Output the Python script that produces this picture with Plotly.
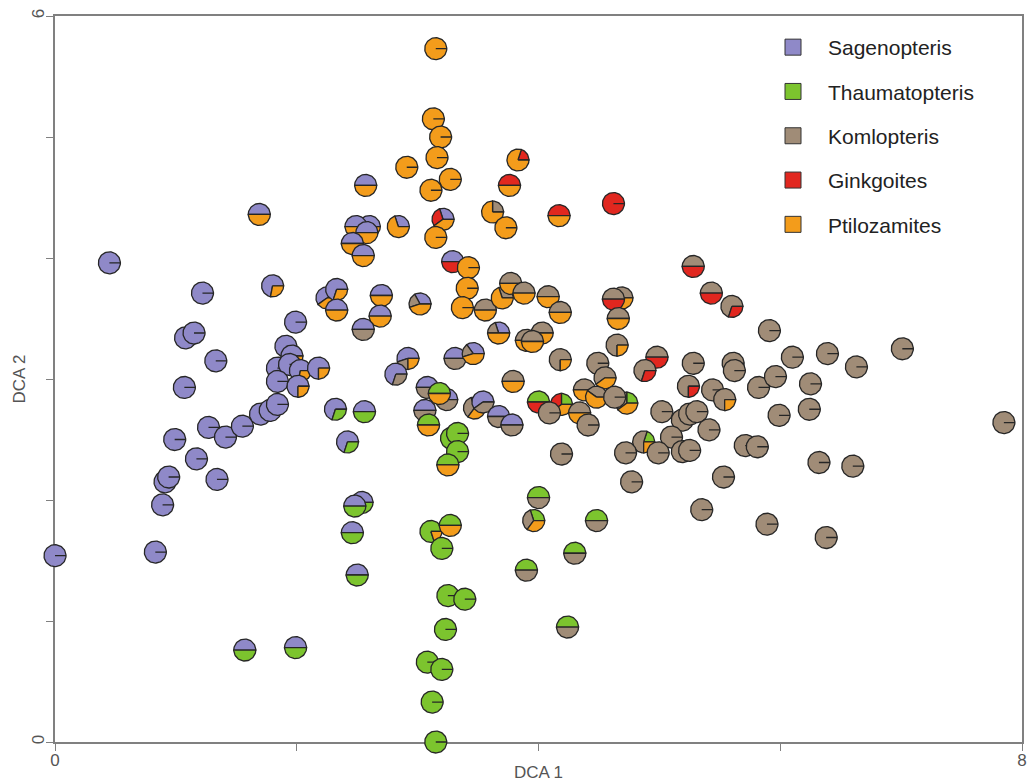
import math
import plotly.graph_objects as go

# ---------------- data ----------------
genera = ["Sagenopteris", "Thaumatopteris", "Komlopteris", "Ginkgoites", "Ptilozamites"]
colors = ["#8f89c8", "#7cc42e", "#a08c77", "#e1271f", "#f39c1b"]

dca1 = [
    0.00, 0.45, 0.83, 0.89, 0.91, 0.94, 0.99, 1.07, 1.08, 1.15,
    1.17, 1.22, 1.27, 1.33, 1.34, 1.41, 1.55, 1.70, 1.78, 1.84,
    1.69, 1.80, 1.99, 1.91, 1.96, 1.84, 1.94, 2.03, 1.84, 2.01,
    2.18, 2.25, 2.33, 2.33, 2.70, 2.69, 3.02, 2.55, 2.92, 2.82,
    2.32, 2.56, 2.42, 2.54, 2.48, 2.46, 2.50, 1.99, 1.57, 2.57,
    2.60, 2.49, 2.58, 2.46, 2.55, 2.84, 3.21, 3.29, 3.08, 3.06,
    3.24, 3.31, 3.46, 3.67, 3.47, 3.54, 3.67, 3.78, 3.18, 3.09,
    3.28, 3.33, 3.33, 3.25, 3.11, 3.27, 3.20, 3.25, 3.39, 3.23,
    3.08, 3.20, 3.12, 3.15, 4.00, 4.19, 4.73, 4.87, 4.00, 3.96,
    4.48, 4.30, 3.90, 4.24, 3.15, 3.13, 3.19, 3.16, 2.91, 3.27,
    3.11, 3.15, 3.83, 3.76, 3.62, 3.73, 4.17, 4.62, 3.42, 3.41,
    3.37, 3.56, 3.70, 3.77, 3.88, 3.90, 4.08, 4.18, 4.03, 3.95,
    3.79, 4.18, 4.69, 4.62, 4.66, 4.65, 5.28, 5.43, 5.60, 4.98,
    4.88, 5.24, 4.49, 4.55, 4.38, 4.48, 4.63, 4.34, 4.41, 4.09,
    4.19, 5.28, 5.61, 5.62, 5.44, 5.54, 5.82, 5.02, 5.19, 5.25,
    5.31, 5.41, 5.10, 4.72, 4.99, 5.19, 5.25, 5.71, 5.81, 4.77,
    5.53, 5.35, 5.89, 6.38, 5.91, 6.10, 6.39, 6.63, 7.01, 5.96,
    6.25, 5.99, 6.24, 6.32, 6.60, 7.85,
]

dca2 = [
    1.54, 3.96, 1.57, 1.96, 2.15, 2.19, 2.50, 2.93, 3.34, 3.38,
    2.34, 3.71, 2.60, 3.15, 2.17, 2.52, 2.61, 2.71, 2.74, 2.79,
    4.36, 3.77, 3.47, 3.27, 3.19, 3.09, 3.12, 3.07, 2.98, 2.94,
    3.09, 3.67, 3.74, 3.57, 3.69, 3.52, 3.62, 3.41, 3.17, 3.04,
    2.75, 2.73, 2.48, 1.98, 1.95, 1.73, 1.38, 0.78, 0.76, 4.60,
    4.26, 4.26, 4.21, 4.12, 4.02, 4.26, 4.32, 3.97, 2.93, 2.74,
    2.83, 3.17, 3.21, 3.38, 2.76, 2.81, 2.69, 2.62, 2.88, 2.62,
    2.51, 2.55, 2.40, 2.29, 1.74, 1.79, 1.60, 1.21, 1.18, 0.93,
    0.66, 0.60, 0.33, 0.00, 2.81, 2.79, 2.80, 2.48, 2.02, 1.83,
    1.83, 1.56, 1.42, 0.95, 5.73, 5.15, 5.00, 4.83, 4.75, 4.65,
    4.56, 4.17, 4.81, 4.60, 4.38, 4.25, 4.35, 4.45, 3.92, 3.75,
    3.59, 3.57, 3.67, 3.79, 3.71, 3.32, 3.68, 3.55, 3.38, 3.31,
    2.98, 3.16, 3.67, 3.66, 3.50, 3.28, 3.93, 3.71, 3.60, 3.18,
    3.07, 2.94, 3.13, 3.01, 2.91, 2.85, 2.85, 2.72, 2.62, 2.72,
    2.38, 3.13, 3.13, 3.07, 2.91, 2.83, 2.93, 2.73, 2.66, 2.71,
    2.73, 2.58, 2.52, 2.39, 2.39, 2.40, 2.41, 2.45, 2.44, 2.15,
    2.19, 1.92, 1.80, 1.69, 3.40, 3.18, 3.21, 3.10, 3.25, 3.02,
    2.96, 2.70, 2.75, 2.31, 2.28, 2.64,
]

sagenopteris = [
    1, 1, 1, 1, 1, 1, 1, 1, 1, 1,
    1, 1, 1, 1, 1, 1, 1, 1, 1, 1,
    .5, .72, 1, 1, .65, 1, 1, .72, 1, .75,
    .75, .6, .7, .5, .5, .5, .33, .5, .55, .7,
    .7, .5, .7, .5, .5, .5, .5, .5, .5, .5,
    .5, .5, .5, .5, .5, .3, .3, .5, .5, .5,
    .5, .5, .35, .3, .3, .6, .5, .5, 0, 0,
    0, 0, 0, 0, 0, 0, 0, 0, 0, 0,
    0, 0, 0, 0, 0, 0, 0, 0, 0, 0,
    0, 0, 0, 0, 0, 0, 0, 0, 0, 0,
    0, 0, 0, 0, 0, 0, 0, 0, 0, 0,
    0, 0, 0, 0, 0, 0, 0, 0, 0, 0,
    0, 0, 0, 0, 0, 0, 0, 0, 0, 0,
    0, 0, 0, 0, 0, 0, 0, 0, 0, 0,
    0, 0, 0, 0, 0, 0, 0, 0, 0, 0,
    0, 0, 0, 0, 0, 0, 0, 0, 0, 0,
    0, 0, 0, 0, 0, 0, 0, 0, 0, 0,
    0, 0, 0, 0, 0, 0,
]

thaumatopteris = [
    0, 0, 0, 0, 0, 0, 0, 0, 0, 0,
    0, 0, 0, 0, 0, 0, 0, 0, 0, 0,
    0, 0, 0, 0, 0, 0, 0, 0, 0, 0,
    0, 0, 0, 0, 0, 0, 0, 0, 0, 0,
    .3, .5, .3, .5, .5, .5, .5, .5, .5, 0,
    0, 0, 0, 0, 0, 0, 0, 0, 0, 0,
    0, 0, 0, 0, 0, 0, 0, 0, .5, .5,
    1, 1, 1, .5, .8, .5, 1, 1, 1, 1,
    1, 1, 1, 1, .5, .25, .25, .2, .5, .3,
    .5, .5, .5, .5, 0, 0, 0, 0, 0, 0,
    0, 0, 0, 0, 0, 0, 0, 0, 0, 0,
    0, 0, 0, 0, 0, 0, 0, 0, 0, 0,
    0, 0, 0, 0, 0, 0, 0, 0, 0, 0,
    0, 0, 0, 0, 0, 0, 0, 0, 0, 0,
    0, 0, 0, 0, 0, 0, 0, 0, 0, 0,
    0, 0, 0, 0, 0, 0, 0, 0, 0, 0,
    0, 0, 0, 0, 0, 0, 0, 0, 0, 0,
    0, 0, 0, 0, 0, 0,
]

komlopteris = [
    0, 0, 0, 0, 0, 0, 0, 0, 0, 0,
    0, 0, 0, 0, 0, 0, 0, 0, 0, 0,
    0, 0, 0, 0, 0, 0, 0, 0, 0, 0,
    0, 0, 0, 0, 0, 0, .22, .5, .2, .3,
    0, 0, 0, 0, 0, 0, 0, 0, 0, 0,
    0, 0, 0, 0, 0, 0, 0, 0, .5, .5,
    .5, .5, .2, .2, .35, .4, .5, .5, 0, 0,
    0, 0, 0, 0, 0, 0, 0, 0, 0, 0,
    0, 0, 0, 0, 0, 0, .35, .55, .5, .35,
    .5, .5, .5, .5, 0, 0, 0, 0, 0, 0,
    0, 0, 0, 0, .25, 0, 0, 0, 0, 0,
    0, .5, .3, .5, .5, .5, .5, .5, .5, .5,
    .5, .75, .5, .5, .5, .75, .5, .5, .7, .5,
    .7, .75, 1, .6, .5, .4, 1, .5, 1, 1,
    1, 1, 1, 1, 1, .75, 1, 1, 1, 1,
    1, 1, 1, 1, 1, 1, 1, 1, 1, 1,
    1, 1, 1, 1, 1, 1, 1, 1, 1, 1,
    1, 1, 1, 1, 1, 1,
]

ginkgoites = [
    0, 0, 0, 0, 0, 0, 0, 0, 0, 0,
    0, 0, 0, 0, 0, 0, 0, 0, 0, 0,
    0, 0, 0, 0, 0, 0, 0, 0, 0, 0,
    0, 0, 0, 0, 0, 0, 0, 0, 0, 0,
    0, 0, 0, 0, 0, 0, 0, 0, 0, 0,
    0, 0, 0, 0, 0, 0, .3, .5, 0, 0,
    0, 0, 0, 0, 0, 0, 0, 0, 0, 0,
    0, 0, 0, 0, 0, 0, 0, 0, 0, 0,
    0, 0, 0, 0, .5, .35, 0, 0, 0, 0,
    0, 0, 0, 0, 0, 0, 0, 0, 0, 0,
    0, 0, .2, .5, 0, 0, .5, 1, 0, 0,
    0, 0, 0, 0, 0, 0, 0, 0, 0, 0,
    0, 0, 0, .5, 0, 0, .5, .5, .3, .5,
    .3, .25, 0, 0, 0, 0, 0, 0, 0, 0,
    0, 0, 0, 0, 0, 0, 0, 0, 0, 0,
    0, 0, 0, 0, 0, 0, 0, 0, 0, 0,
    0, 0, 0, 0, 0, 0, 0, 0, 0, 0,
    0, 0, 0, 0, 0, 0,
]

ptilozamites = [
    0, 0, 0, 0, 0, 0, 0, 0, 0, 0,
    0, 0, 0, 0, 0, 0, 0, 0, 0, 0,
    .5, .28, 0, 0, .35, 0, 0, .28, 0, .25,
    .25, .4, .3, .5, .5, .5, .45, 0, .25, 0,
    0, 0, 0, 0, 0, 0, 0, 0, 0, .5,
    .5, .5, .5, .5, .5, .7, .4, 0, 0, 0,
    0, 0, .45, .5, .35, 0, 0, 0, .5, .5,
    0, 0, 0, .5, .2, .5, 0, 0, 0, 0,
    0, 0, 0, 0, 0, .4, .4, .25, 0, .35,
    0, 0, 0, 0, 1, 1, 1, 1, 1, 1,
    1, 1, .8, .5, .75, 1, .5, 0, 1, 1,
    1, .5, .7, .5, .5, .5, .5, .5, .5, .5,
    .5, .25, .5, 0, .5, .25, 0, 0, 0, 0,
    0, 0, 0, .4, .5, .6, 0, .5, 0, 0,
    0, 0, 0, 0, 0, .25, 0, 0, 0, 0,
    0, 0, 0, 0, 0, 0, 0, 0, 0, 0,
    0, 0, 0, 0, 0, 0, 0, 0, 0, 0,
    0, 0, 0, 0, 0, 0,
]

x_ticks = [0, 2, 4, 6, 8]
x_ticktext = ["0", "", "", "", "8"]
y_ticks = [0, 1, 2, 3, 4, 5, 6]
y_ticktext = ["0", "", "", "", "", "", "6"]

shares = [sagenopteris, thaumatopteris, komlopteris, ginkgoites, ptilozamites]
n = len(dca1)
assert len(dca2) == n and all(len(s) == n for s in shares)

# ---------------- geometry of the page ----------------
W, H = 1029, 782
ML, MR, MT, MB = 40, 0, 4, 28
PX0, PX1 = 55, 1022     # main plot area, px
PY0, PY1 = 16, 742
XMAX, YMAX = 8, 6
paper_w = W - ML - MR
paper_h = H - MT - MB
x_dom = [(PX0 - ML) / paper_w, (PX1 - ML) / paper_w]
y_dom = [(H - MB - PY1) / paper_h, (H - MB - PY0) / paper_h]
ux = (PX1 - PX0) / XMAX
uy = (PY1 - PY0) / YMAX
x2_range = [-(PX0 - ML) / ux, XMAX + (W - MR - PX1) / ux]
y2_range = [-(H - MB - PY1) / uy, YMAX + (PY0 - MT) / uy]

R_PX = 11.0
rx = R_PX / ux
ry = R_PX / uy

fig = go.Figure()

# legend entries
for g, c in zip(genera, colors):
    fig.add_trace(go.Scatter(
        x=[None], y=[None], mode="markers", name=g, legendgroup=g,
        marker=dict(symbol="square", size=16, color=c,
                    line=dict(color="#333333", width=1)),
        xaxis="x", yaxis="y"))

# pie glyphs
for i in range(n):
    cx, cy = dca1[i], dca2[i]
    fr = [s[i] for s in shares]
    tot = sum(fr)
    start = 0.0
    for k in range(5):
        f = fr[k] / tot
        if f <= 0:
            continue
        a0 = start
        a1 = start + f * 2 * math.pi
        steps = max(3, int(f * 80))
        xs = [cx]
        ys = [cy]
        for j in range(steps + 1):
            a = a0 + (a1 - a0) * j / steps
            xs.append(cx + rx * math.cos(a))
            ys.append(cy + ry * math.sin(a))
        xs.append(cx)
        ys.append(cy)
        fig.add_trace(go.Scatter(
            x=xs, y=ys, mode="lines", fill="toself", fillcolor=colors[k],
            line=dict(color="#262626", width=1.3),
            hoverinfo="skip", showlegend=False, xaxis="x2", yaxis="y2"))
        start = a1

axis_font = "Liberation Sans Narrow, Arial Narrow, Liberation Sans, Arial, sans-serif"

fig.update_layout(
    width=W, height=H,
    margin=dict(l=ML, r=MR, t=MT, b=MB, pad=0),
    paper_bgcolor="white", plot_bgcolor="rgba(0,0,0,0)",
    showlegend=True,
    legend=dict(
        x=(758 - ML) / paper_w, y=(H - MB - 27) / paper_h,
        xanchor="left", yanchor="top",
        bgcolor="rgba(0,0,0,0)", borderwidth=0,
        font=dict(family="Liberation Sans, Arial, sans-serif", size=21, color="#222222"),
        itemwidth=60, tracegroupgap=14,
    ),
    xaxis=dict(
        domain=x_dom, range=[0, XMAX], showgrid=False, zeroline=False,
        showline=True, mirror=True, linecolor="#808080", linewidth=1.5,
        ticks="outside", ticklen=7, tickwidth=1.2, tickcolor="#808080",
        tickvals=x_ticks, ticktext=x_ticktext, ticklabelstandoff=-5,
        tickfont=dict(family=axis_font, size=17, color="#555555"),
        title=dict(text="DCA 1", font=dict(family=axis_font, size=17, color="#555555"), standoff=0),
        automargin=False, fixedrange=True, anchor="y",
    ),
    yaxis=dict(
        domain=y_dom, range=[0, YMAX], showgrid=False, zeroline=False,
        showline=True, mirror=True, linecolor="#808080", linewidth=1.5,
        ticks="outside", ticklen=7, tickwidth=1.2, tickcolor="#808080",
        tickvals=y_ticks, ticktext=y_ticktext, tickangle=-90, ticklabelstandoff=-5,
        tickfont=dict(family=axis_font, size=17, color="#555555"),
        title=dict(text="DCA 2", font=dict(family=axis_font, size=17, color="#555555"), standoff=0),
        automargin=False, fixedrange=True, anchor="x",
    ),
    xaxis2=dict(domain=[0, 1], range=x2_range, visible=False, anchor="y2", fixedrange=True),
    yaxis2=dict(domain=[0, 1], range=y2_range, visible=False, anchor="x2", fixedrange=True),
)

fig.write_html("out.html", config={"displayModeBar": False},
               post_script="document.body.style.margin='0';")
